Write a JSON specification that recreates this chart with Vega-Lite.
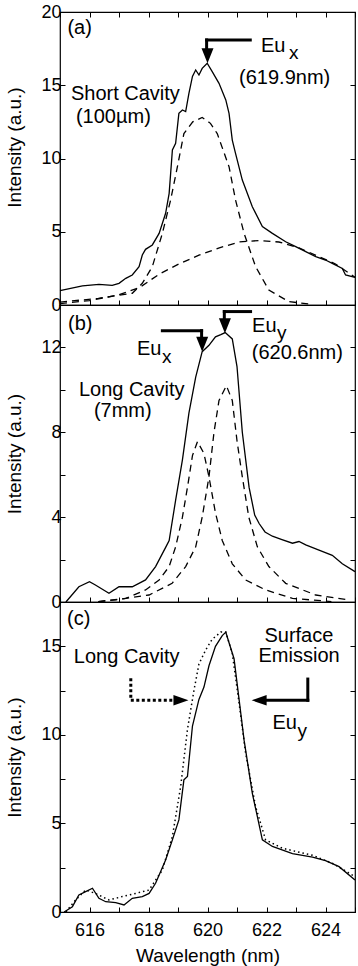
{
  "$schema": "https://vega.github.io/schema/vega-lite/v6.json",
  "padding": {"left": 4, "top": 2, "right": 2, "bottom": 2},
  "bounds": "flush",
  "spacing": 0,
  "config": {
    "font": "Liberation Sans",
    "view": {"stroke": "black", "strokeWidth": 1.2},
    "axis": {"domain": false, "grid": false, "tickColor": "black", "tickSize": -5, "tickWidth": 1, "labelColor": "black", "titleColor": "black", "labelFont": "Liberation Sans", "titleFont": "Liberation Sans", "labelFontSize": 18, "titleFontSize": 19, "titleFontWeight": "normal", "labelFlush": false, "labelOverlap": false, "labelPadding": 4},
    "text": {"font": "Liberation Sans"}
  },
  "datasets": {
    "a_solid": [
      {"wl": 615.0, "v": 0.98}, {"wl": 615.76, "v": 1.3}, {"wl": 616.32, "v": 1.41}, {"wl": 616.77, "v": 1.34}, {"wl": 617.0, "v": 1.48}, {"wl": 617.23, "v": 1.82}, {"wl": 617.45, "v": 2.05}, {"wl": 617.68, "v": 2.62}, {"wl": 617.79, "v": 3.41}, {"wl": 617.9, "v": 3.8}, {"wl": 618.13, "v": 4.1}, {"wl": 618.36, "v": 4.89}, {"wl": 618.58, "v": 6.26}, {"wl": 618.7, "v": 7.62}, {"wl": 618.81, "v": 10.58}, {"wl": 618.92, "v": 11.04}, {"wl": 619.03, "v": 13.08}, {"wl": 619.15, "v": 13.31}, {"wl": 619.26, "v": 13.2}, {"wl": 619.37, "v": 14.45}, {"wl": 619.49, "v": 15.6}, {"wl": 619.6, "v": 16.04}, {"wl": 619.71, "v": 15.7}, {"wl": 619.82, "v": 16.15}, {"wl": 619.99, "v": 16.5}, {"wl": 620.16, "v": 15.93}, {"wl": 620.39, "v": 15.13}, {"wl": 620.62, "v": 14.0}, {"wl": 620.73, "v": 13.08}, {"wl": 620.84, "v": 11.26}, {"wl": 620.95, "v": 10.35}, {"wl": 621.18, "v": 8.53}, {"wl": 621.52, "v": 6.71}, {"wl": 621.86, "v": 5.35}, {"wl": 622.2, "v": 4.89}, {"wl": 622.65, "v": 4.32}, {"wl": 622.99, "v": 3.98}, {"wl": 623.33, "v": 3.64}, {"wl": 623.67, "v": 3.3}, {"wl": 624.0, "v": 3.07}, {"wl": 624.23, "v": 2.84}, {"wl": 624.57, "v": 2.5}, {"wl": 624.68, "v": 2.05}, {"wl": 625.0, "v": 1.88}
    ],
    "a_d1": [
      {"wl": 615.0, "v": 0.2}, {"wl": 616.3, "v": 0.45}, {"wl": 617.45, "v": 0.8}, {"wl": 617.79, "v": 1.48}, {"wl": 618.13, "v": 2.62}, {"wl": 618.47, "v": 4.89}, {"wl": 618.75, "v": 7.17}, {"wl": 618.98, "v": 9.44}, {"wl": 619.2, "v": 11.7}, {"wl": 619.5, "v": 12.5}, {"wl": 619.82, "v": 12.8}, {"wl": 620.1, "v": 12.4}, {"wl": 620.33, "v": 11.7}, {"wl": 620.73, "v": 9.44}, {"wl": 620.95, "v": 7.17}, {"wl": 621.24, "v": 4.89}, {"wl": 621.63, "v": 2.62}, {"wl": 622.08, "v": 1.02}, {"wl": 622.76, "v": 0.23}, {"wl": 623.5, "v": 0.05}
    ],
    "a_d2": [
      {"wl": 615.0, "v": 0.1}, {"wl": 616.0, "v": 0.3}, {"wl": 617.0, "v": 0.7}, {"wl": 617.7, "v": 1.2}, {"wl": 618.36, "v": 2.1}, {"wl": 619.03, "v": 2.8}, {"wl": 619.71, "v": 3.4}, {"wl": 620.4, "v": 3.9}, {"wl": 621.07, "v": 4.3}, {"wl": 621.75, "v": 4.4}, {"wl": 622.42, "v": 4.3}, {"wl": 623.1, "v": 3.9}, {"wl": 623.78, "v": 3.3}, {"wl": 624.34, "v": 2.8}, {"wl": 625.0, "v": 1.9}
    ],
    "b_solid": [
      {"wl": 615.2, "v": 0}, {"wl": 615.64, "v": 0.72}, {"wl": 616.0, "v": 0.96}, {"wl": 616.2, "v": 0.8}, {"wl": 616.66, "v": 0.41}, {"wl": 617.0, "v": 0.72}, {"wl": 617.45, "v": 0.72}, {"wl": 617.9, "v": 1.04}, {"wl": 618.24, "v": 1.67}, {"wl": 618.59, "v": 2.6}, {"wl": 618.7, "v": 2.9}, {"wl": 618.92, "v": 4.8}, {"wl": 619.15, "v": 6.7}, {"wl": 619.37, "v": 8.9}, {"wl": 619.6, "v": 10.6}, {"wl": 619.82, "v": 11.8}, {"wl": 620.05, "v": 12.1}, {"wl": 620.27, "v": 12.5}, {"wl": 620.45, "v": 12.6}, {"wl": 620.6, "v": 12.7}, {"wl": 620.84, "v": 12.4}, {"wl": 621.0, "v": 11.1}, {"wl": 621.18, "v": 8.0}, {"wl": 621.41, "v": 5.4}, {"wl": 621.6, "v": 4.1}, {"wl": 621.75, "v": 3.7}, {"wl": 621.95, "v": 3.3}, {"wl": 622.2, "v": 3.1}, {"wl": 622.5, "v": 2.95}, {"wl": 622.88, "v": 2.77}, {"wl": 623.1, "v": 2.85}, {"wl": 623.33, "v": 2.69}, {"wl": 623.78, "v": 2.45}, {"wl": 624.23, "v": 2.2}, {"wl": 624.57, "v": 1.8}, {"wl": 625.0, "v": 1.43}
    ],
    "b_d1": [
      {"wl": 616.3, "v": 0.02}, {"wl": 617.23, "v": 0.17}, {"wl": 617.9, "v": 0.57}, {"wl": 618.36, "v": 1.04}, {"wl": 618.7, "v": 1.67}, {"wl": 618.92, "v": 2.6}, {"wl": 619.15, "v": 4.0}, {"wl": 619.32, "v": 5.4}, {"wl": 619.49, "v": 6.9}, {"wl": 619.66, "v": 7.56}, {"wl": 619.88, "v": 7.0}, {"wl": 620.05, "v": 5.9}, {"wl": 620.27, "v": 4.2}, {"wl": 620.5, "v": 2.9}, {"wl": 620.84, "v": 1.8}, {"wl": 621.29, "v": 1.04}, {"wl": 621.97, "v": 0.57}, {"wl": 622.88, "v": 0.17}, {"wl": 624.2, "v": 0.02}
    ],
    "b_d2": [
      {"wl": 616.3, "v": 0.02}, {"wl": 616.9, "v": 0.1}, {"wl": 618.02, "v": 0.33}, {"wl": 618.8, "v": 0.88}, {"wl": 619.26, "v": 1.67}, {"wl": 619.6, "v": 2.6}, {"wl": 619.82, "v": 4.0}, {"wl": 620.05, "v": 5.9}, {"wl": 620.22, "v": 8.0}, {"wl": 620.39, "v": 9.5}, {"wl": 620.64, "v": 10.2}, {"wl": 620.84, "v": 9.5}, {"wl": 621.0, "v": 7.6}, {"wl": 621.18, "v": 5.9}, {"wl": 621.4, "v": 4.0}, {"wl": 621.69, "v": 2.6}, {"wl": 622.08, "v": 1.67}, {"wl": 622.65, "v": 0.88}, {"wl": 623.67, "v": 0.33}, {"wl": 624.8, "v": 0.1}
    ],
    "c_solid": [
      {"wl": 615.14, "v": 0}, {"wl": 615.42, "v": 0.3}, {"wl": 615.64, "v": 0.96}, {"wl": 615.87, "v": 1.15}, {"wl": 616.1, "v": 1.34}, {"wl": 616.32, "v": 0.77}, {"wl": 616.55, "v": 0.58}, {"wl": 616.89, "v": 0.53}, {"wl": 617.17, "v": 0.4}, {"wl": 617.45, "v": 0.77}, {"wl": 617.79, "v": 0.87}, {"wl": 618.02, "v": 1.05}, {"wl": 618.24, "v": 1.62}, {"wl": 618.58, "v": 2.94}, {"wl": 618.81, "v": 4.07}, {"wl": 619.03, "v": 5.2}, {"wl": 619.2, "v": 7.46}, {"wl": 619.32, "v": 7.65}, {"wl": 619.49, "v": 10.5}, {"wl": 619.71, "v": 12.0}, {"wl": 619.88, "v": 12.7}, {"wl": 620.05, "v": 13.9}, {"wl": 620.27, "v": 15.0}, {"wl": 620.5, "v": 15.6}, {"wl": 620.62, "v": 15.8}, {"wl": 620.73, "v": 15.2}, {"wl": 620.9, "v": 14.3}, {"wl": 621.07, "v": 12.0}, {"wl": 621.24, "v": 9.7}, {"wl": 621.52, "v": 6.7}, {"wl": 621.86, "v": 4.07}, {"wl": 622.2, "v": 3.7}, {"wl": 622.88, "v": 3.3}, {"wl": 623.56, "v": 3.1}, {"wl": 624.0, "v": 2.9}, {"wl": 624.46, "v": 2.56}, {"wl": 625.0, "v": 1.8}
    ],
    "c_dot": [
      {"wl": 615.2, "v": 0}, {"wl": 615.53, "v": 0.68}, {"wl": 615.87, "v": 1.24}, {"wl": 616.2, "v": 1.05}, {"wl": 616.66, "v": 0.68}, {"wl": 617.11, "v": 0.87}, {"wl": 617.56, "v": 1.05}, {"wl": 618.02, "v": 1.24}, {"wl": 618.47, "v": 2.37}, {"wl": 618.81, "v": 4.26}, {"wl": 619.09, "v": 7.08}, {"wl": 619.32, "v": 10.3}, {"wl": 619.54, "v": 12.5}, {"wl": 619.71, "v": 14.0}, {"wl": 619.94, "v": 14.8}, {"wl": 620.16, "v": 15.4}, {"wl": 620.45, "v": 15.8}, {"wl": 620.62, "v": 15.8}, {"wl": 620.84, "v": 14.6}, {"wl": 621.07, "v": 11.8}, {"wl": 621.29, "v": 9.0}, {"wl": 621.63, "v": 5.95}, {"wl": 621.97, "v": 4.07}, {"wl": 622.54, "v": 3.6}, {"wl": 623.56, "v": 3.2}, {"wl": 624.23, "v": 2.75}, {"wl": 625.0, "v": 2.0}
    ],
    "a_text": [
      {"wl": 615.25, "v": 18.5, "t": "(a)"},
      {"wl": 615.37, "v": 14.0, "t": "Short Cavity"},
      {"wl": 615.54, "v": 12.4, "t": "(100µm)"},
      {"wl": 621.81, "v": 17.25, "t": "Eu"},
      {"wl": 621.07, "v": 15.1, "t": "(619.9nm)"}
    ],
    "a_sub": [
      {"wl": 622.76, "v": 16.8, "t": "x"}
    ],
    "a_rule": [
      {"wl": 619.97, "wl2": 621.45, "v": 18.09, "v2": 18.09},
      {"wl": 619.97, "wl2": 619.97, "v": 18.09, "v2": 17.4}
    ],
    "a_head": [{"wl": 620.0, "v": 17.02}],
    "b_text": [
      {"wl": 615.27, "v": 12.82, "t": "(b)"},
      {"wl": 617.61, "v": 11.65, "t": "Eu"},
      {"wl": 621.51, "v": 12.74, "t": "Eu"},
      {"wl": 621.5, "v": 11.44, "t": "(620.6nm)"},
      {"wl": 615.64, "v": 9.7, "t": "Long Cavity"},
      {"wl": 616.15, "v": 8.7, "t": "(7mm)"}
    ],
    "b_sub": [
      {"wl": 618.46, "v": 11.28, "t": "x"},
      {"wl": 622.36, "v": 12.4, "t": "y"}
    ],
    "b_rule": [
      {"wl": 618.47, "wl2": 619.8, "v": 12.79, "v2": 12.79},
      {"wl": 619.8, "wl2": 619.8, "v": 12.79, "v2": 12.45},
      {"wl": 620.57, "wl2": 621.46, "v": 13.69, "v2": 13.69},
      {"wl": 620.57, "wl2": 620.57, "v": 13.69, "v2": 13.35}
    ],
    "b_head": [{"wl": 619.82, "v": 12.15}, {"wl": 620.59, "v": 13.02}],
    "c_text": [
      {"wl": 615.24, "v": 16.2, "t": "(c)"},
      {"wl": 615.47, "v": 14.05, "t": "Long Cavity"},
      {"wl": 621.93, "v": 15.27, "t": "Surface"},
      {"wl": 621.73, "v": 14.14, "t": "Emission"},
      {"wl": 622.2, "v": 10.35, "t": "Eu"}
    ],
    "c_sub": [
      {"wl": 623.05, "v": 9.9, "t": "y"}
    ],
    "c_rule_dot": [
      {"wl": 617.4, "wl2": 617.4, "v": 13.2, "v2": 11.95},
      {"wl": 617.4, "wl2": 618.86, "v": 11.95, "v2": 11.95}
    ],
    "c_rule_solid": [
      {"wl": 623.4, "wl2": 623.4, "v": 13.15, "v2": 11.95},
      {"wl": 623.4, "wl2": 622.0, "v": 11.95, "v2": 11.95}
    ],
    "c_head_r": [{"wl": 619.1, "v": 11.95}],
    "c_head_l": [{"wl": 621.75, "v": 11.95}]
  },
  "vconcat": [
    {
      "width": 295, "height": 293,
      "resolve": {"axis": {"x": "independent", "y": "independent"}},
      "layer": [
        {"data": {"name": "a_solid"}, "mark": {"type": "line", "color": "black", "strokeWidth": 1.3},
         "encoding": {
           "x": {"field": "wl", "type": "quantitative", "scale": {"domain": [615, 625], "nice": false, "zero": false}, "axis": {"orient": "bottom", "values": [615, 616, 617, 618, 619, 620, 621, 622, 623, 624, 625], "labels": false, "title": null}},
           "y": {"field": "v", "type": "quantitative", "scale": {"domain": [0, 20], "nice": false}, "axis": {"orient": "left", "values": [0, 5, 10, 15, 20], "title": "Intensity (a.u.)", "titleX": -40, "titleY": 135, "titleBaseline": "alphabetic"}}}},
        {"data": {"name": "a_d1"}, "mark": {"type": "line", "color": "black", "strokeWidth": 1.3, "strokeDash": [7, 5]},
         "encoding": {
           "x": {"field": "wl", "type": "quantitative", "axis": {"orient": "top", "values": [615, 616, 617, 618, 619, 620, 621, 622, 623, 624, 625], "labels": false, "title": null}},
           "y": {"field": "v", "type": "quantitative", "axis": {"orient": "right", "values": [0, 5, 10, 15, 20], "labels": false, "title": null}}}},
        {"data": {"name": "a_d2"}, "mark": {"type": "line", "color": "black", "strokeWidth": 1.3, "strokeDash": [7, 5]},
         "encoding": {"x": {"field": "wl", "type": "quantitative", "axis": null}, "y": {"field": "v", "type": "quantitative", "axis": null}}},
        {"data": {"name": "a_rule"}, "mark": {"type": "rule", "color": "black", "strokeWidth": 3, "strokeCap": "square"},
         "encoding": {"x": {"field": "wl", "type": "quantitative", "axis": null}, "x2": {"field": "wl2"}, "y": {"field": "v", "type": "quantitative", "axis": null}, "y2": {"field": "v2"}}},
        {"data": {"name": "a_head"}, "mark": {"type": "point", "filled": true, "color": "black", "opacity": 1, "size": 225, "shape": "M-0.8,-1L0.8,-1L0,1Z", "strokeWidth": 0},
         "encoding": {"x": {"field": "wl", "type": "quantitative", "axis": null}, "y": {"field": "v", "type": "quantitative", "axis": null}}},
        {"data": {"name": "a_text"}, "mark": {"type": "text", "align": "left", "baseline": "alphabetic", "fontSize": 20, "color": "black"},
         "encoding": {"x": {"field": "wl", "type": "quantitative", "axis": null}, "y": {"field": "v", "type": "quantitative", "axis": null}, "text": {"field": "t"}}},
        {"data": {"name": "a_sub"}, "mark": {"type": "text", "align": "left", "baseline": "alphabetic", "fontSize": 19, "color": "black"},
         "encoding": {"x": {"field": "wl", "type": "quantitative", "axis": null}, "y": {"field": "v", "type": "quantitative", "axis": null}, "text": {"field": "t"}}}
      ]
    },
    {
      "width": 295, "height": 297,
      "resolve": {"axis": {"x": "independent", "y": "independent"}},
      "layer": [
        {"data": {"name": "b_solid"}, "mark": {"type": "line", "color": "black", "strokeWidth": 1.3},
         "encoding": {
           "x": {"field": "wl", "type": "quantitative", "scale": {"domain": [615, 625], "nice": false, "zero": false}, "axis": {"orient": "bottom", "values": [615, 616, 617, 618, 619, 620, 621, 622, 623, 624, 625], "labels": false, "title": null}},
           "y": {"field": "v", "type": "quantitative", "scale": {"domain": [0, 14], "nice": false}, "axis": {"orient": "left", "values": [0, 2, 4, 6, 8, 10, 12, 14], "labelExpr": "datum.value % 4 === 0 && datum.value < 14 ? datum.label : ''", "title": "Intensity (a.u.)", "titleX": -40, "titleBaseline": "alphabetic"}}}},
        {"data": {"name": "b_d1"}, "mark": {"type": "line", "color": "black", "strokeWidth": 1.3, "strokeDash": [7, 5]},
         "encoding": {
           "x": {"field": "wl", "type": "quantitative", "axis": null},
           "y": {"field": "v", "type": "quantitative", "axis": {"orient": "right", "values": [0, 2, 4, 6, 8, 10, 12, 14], "labels": false, "title": null}}}},
        {"data": {"name": "b_d2"}, "mark": {"type": "line", "color": "black", "strokeWidth": 1.3, "strokeDash": [7, 5]},
         "encoding": {"x": {"field": "wl", "type": "quantitative", "axis": null}, "y": {"field": "v", "type": "quantitative", "axis": null}}},
        {"data": {"name": "b_rule"}, "mark": {"type": "rule", "color": "black", "strokeWidth": 3, "strokeCap": "square"},
         "encoding": {"x": {"field": "wl", "type": "quantitative", "axis": null}, "x2": {"field": "wl2"}, "y": {"field": "v", "type": "quantitative", "axis": null}, "y2": {"field": "v2"}}},
        {"data": {"name": "b_head"}, "mark": {"type": "point", "filled": true, "color": "black", "opacity": 1, "size": 225, "shape": "M-0.8,-1L0.8,-1L0,1Z", "strokeWidth": 0},
         "encoding": {"x": {"field": "wl", "type": "quantitative", "axis": null}, "y": {"field": "v", "type": "quantitative", "axis": null}}},
        {"data": {"name": "b_text"}, "mark": {"type": "text", "align": "left", "baseline": "alphabetic", "fontSize": 20, "color": "black"},
         "encoding": {"x": {"field": "wl", "type": "quantitative", "axis": null}, "y": {"field": "v", "type": "quantitative", "axis": null}, "text": {"field": "t"}}},
        {"data": {"name": "b_sub"}, "mark": {"type": "text", "align": "left", "baseline": "alphabetic", "fontSize": 19, "color": "black"},
         "encoding": {"x": {"field": "wl", "type": "quantitative", "axis": null}, "y": {"field": "v", "type": "quantitative", "axis": null}, "text": {"field": "t"}}}
      ]
    },
    {
      "width": 295, "height": 310,
      "resolve": {"axis": {"x": "independent", "y": "independent"}},
      "layer": [
        {"data": {"name": "c_solid"}, "mark": {"type": "line", "color": "black", "strokeWidth": 1.3},
         "encoding": {
           "x": {"field": "wl", "type": "quantitative", "scale": {"domain": [615, 625], "nice": false, "zero": false}, "axis": {"orient": "bottom", "values": [615, 616, 617, 618, 619, 620, 621, 622, 623, 624, 625], "labelExpr": "datum.value % 2 === 0 ? datum.label : ''", "labelPadding": 14, "title": "Wavelength (nm)", "titleY": 49, "titleBaseline": "alphabetic"}},
           "y": {"field": "v", "type": "quantitative", "scale": {"domain": [0, 17.5], "nice": false}, "axis": {"orient": "left", "values": [0, 2.5, 5, 7.5, 10, 12.5, 15, 17.5], "labelExpr": "datum.value % 5 === 0 ? datum.label : ''", "title": "Intensity (a.u.)", "titleX": -40, "titleBaseline": "alphabetic"}}}},
        {"data": {"name": "c_dot"}, "mark": {"type": "line", "color": "black", "strokeWidth": 1.5, "strokeDash": [1.5, 3]},
         "encoding": {
           "x": {"field": "wl", "type": "quantitative", "axis": null},
           "y": {"field": "v", "type": "quantitative", "axis": {"orient": "right", "values": [0, 2.5, 5, 7.5, 10, 12.5, 15, 17.5], "labels": false, "title": null}}}},
        {"data": {"name": "c_rule_dot"}, "mark": {"type": "rule", "color": "black", "strokeWidth": 3, "strokeDash": [3, 2.5]},
         "encoding": {"x": {"field": "wl", "type": "quantitative", "axis": null}, "x2": {"field": "wl2"}, "y": {"field": "v", "type": "quantitative", "axis": null}, "y2": {"field": "v2"}}},
        {"data": {"name": "c_rule_solid"}, "mark": {"type": "rule", "color": "black", "strokeWidth": 3, "strokeCap": "square"},
         "encoding": {"x": {"field": "wl", "type": "quantitative", "axis": null}, "x2": {"field": "wl2"}, "y": {"field": "v", "type": "quantitative", "axis": null}, "y2": {"field": "v2"}}},
        {"data": {"name": "c_head_r"}, "mark": {"type": "point", "filled": true, "color": "black", "opacity": 1, "size": 225, "shape": "M-1,-0.7L-1,0.7L1,0Z", "strokeWidth": 0},
         "encoding": {"x": {"field": "wl", "type": "quantitative", "axis": null}, "y": {"field": "v", "type": "quantitative", "axis": null}}},
        {"data": {"name": "c_head_l"}, "mark": {"type": "point", "filled": true, "color": "black", "opacity": 1, "size": 225, "shape": "M1,-0.7L1,0.7L-1,0Z", "strokeWidth": 0},
         "encoding": {"x": {"field": "wl", "type": "quantitative", "axis": null}, "y": {"field": "v", "type": "quantitative", "axis": null}}},
        {"data": {"name": "c_text"}, "mark": {"type": "text", "align": "left", "baseline": "alphabetic", "fontSize": 20, "color": "black"},
         "encoding": {"x": {"field": "wl", "type": "quantitative", "axis": null}, "y": {"field": "v", "type": "quantitative", "axis": null}, "text": {"field": "t"}}},
        {"data": {"name": "c_sub"}, "mark": {"type": "text", "align": "left", "baseline": "alphabetic", "fontSize": 19, "color": "black"},
         "encoding": {"x": {"field": "wl", "type": "quantitative", "axis": null}, "y": {"field": "v", "type": "quantitative", "axis": null}, "text": {"field": "t"}}}
      ]
    }
  ]
}
